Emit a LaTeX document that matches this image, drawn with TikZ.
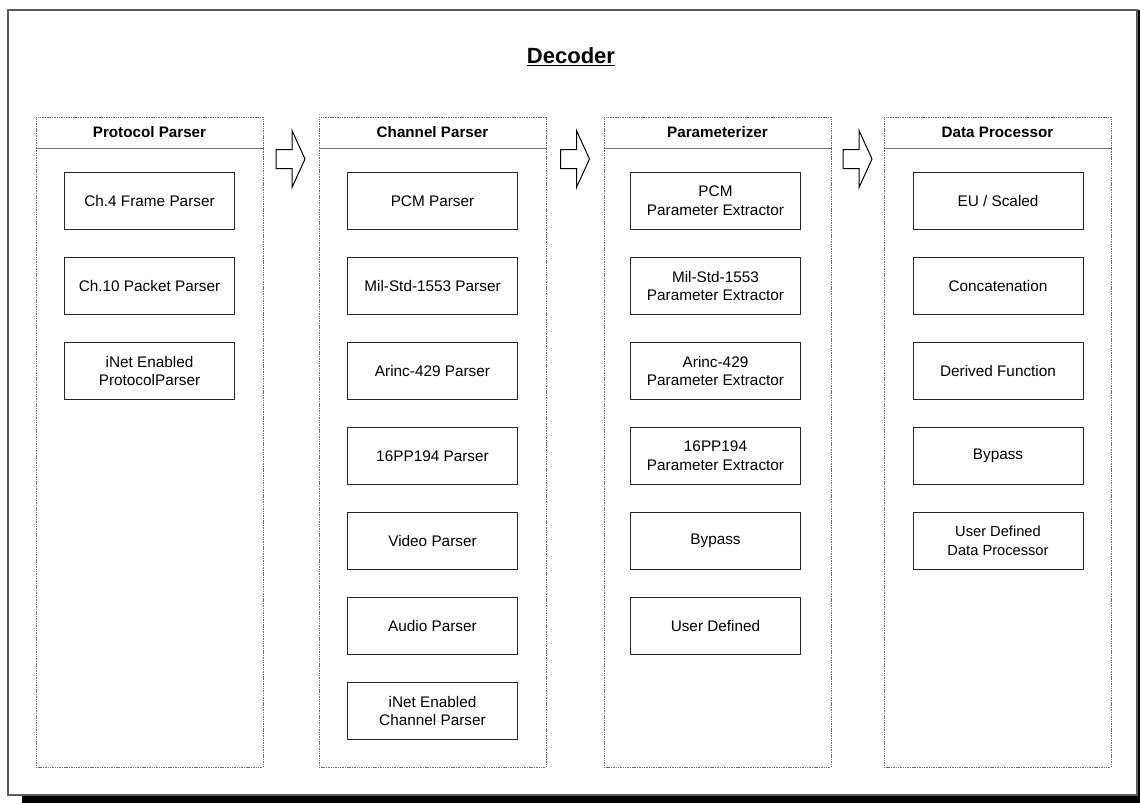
\documentclass[tikz,border=0pt]{standalone}
\usepackage{fontspec}
\setmainfont{Liberation Sans}
\usetikzlibrary{calc}
\definecolor{framegray}{HTML}{5A5A5A}
\definecolor{colgray}{HTML}{6E6E6E}
\tikzset{
  x=0.75pt, y=-0.75pt,
  frame/.style={draw=framegray, line width=1.1pt},
  column/.style={draw=colgray, line width=0.7pt, dash pattern=on 0.8pt off 0.5pt, minimum width=170.25pt, inner sep=0pt},
  colhead/.style={column, minimum height=23.25pt, font=\bfseries\fontsize{11.4}{13}\selectfont},
  colbody/.style={column, minimum height=464.25pt},
  block/.style={draw=black!85, line width=0.75pt, minimum width=127.5pt, minimum height=42.75pt, align=center, inner sep=0pt, font=\fontsize{11.5}{14}\selectfont},
  flow/.style={draw=black, line width=0.75pt, fill=white, line join=miter}
}

\begin{document}
\begin{tikzpicture}
\useasboundingbox (0,0) rectangle (1140,803);
% outer frame with shadow
\fill[black] (22,796) rectangle (1140,803);
\fill[black] (1138,10) rectangle (1140,803);
\draw[frame] (8,10) rectangle (1137,795);
\node[anchor=base, font=\bfseries\fontsize{16.5}{20}\selectfont] (title) at (571,63) {\underline{Decoder}};

% columns
\node[colhead] (pph) at (149.5,132.5) {Protocol Parser};
\node[colbody] (ppb) at (149.5,457.5) {};
\node[colhead] (cph) at (432.5,132.5) {Channel Parser};
\node[colbody] (cpb) at (432.5,457.5) {};
\node[colhead] (pzh) at (717.5,132.5) {Parameterizer};
\node[colbody] (pzb) at (717.5,457.5) {};
\node[colhead] (dph) at (997.5,132.5) {Data Processor};
\node[colbody] (dpb) at (997.5,457.5) {};

% blocks
\foreach \txt [count=\i] in {Ch.4 Frame Parser, Ch.10 Packet Parser, {iNet Enabled\\ProtocolParser}}
  \node[block] (pp\i) at (149.5,{201+85*(\i-1)}) {\txt};
\foreach \txt [count=\i] in {PCM Parser, Mil-Std-1553 Parser, Arinc-429 Parser, 16PP194 Parser, Video Parser, Audio Parser, {iNet Enabled\\Channel Parser}}
  \node[block] (cp\i) at (432.5,{201+85*(\i-1)}) {\txt};
\foreach \txt [count=\i] in {{PCM\\Parameter Extractor}, {Mil-Std-1553\\Parameter Extractor}, {Arinc-429\\Parameter Extractor}, {16PP194\\Parameter Extractor}, Bypass, User Defined}
  \node[block] (pz\i) at (715.5,{201+85*(\i-1)}) {\txt};
\foreach \txt [count=\i] in {EU / Scaled, Concatenation, Derived Function, Bypass}
  \node[block] (dp\i) at (998,{201+85*(\i-1)}) {\txt};
\node[block, font=\fontsize{11}{14}\selectfont] (dp5) at (998,541) {User Defined\\Data Processor};

% flow arrows between columns
\coordinate (a1) at (290.5,159);
\coordinate (a2) at (575,159);
\coordinate (a3) at (857.5,159);
\foreach \a in {a1,a2,a3}
  \draw[flow] (\a) ++(-14.5,-9.5) -- ++(16,0) -- ++(0,-19) -- ++(13,28.5)
    -- ++(-13,28.5) -- ++(0,-19) -- ++(-16,0) -- cycle;
\end{tikzpicture}
\end{document}
